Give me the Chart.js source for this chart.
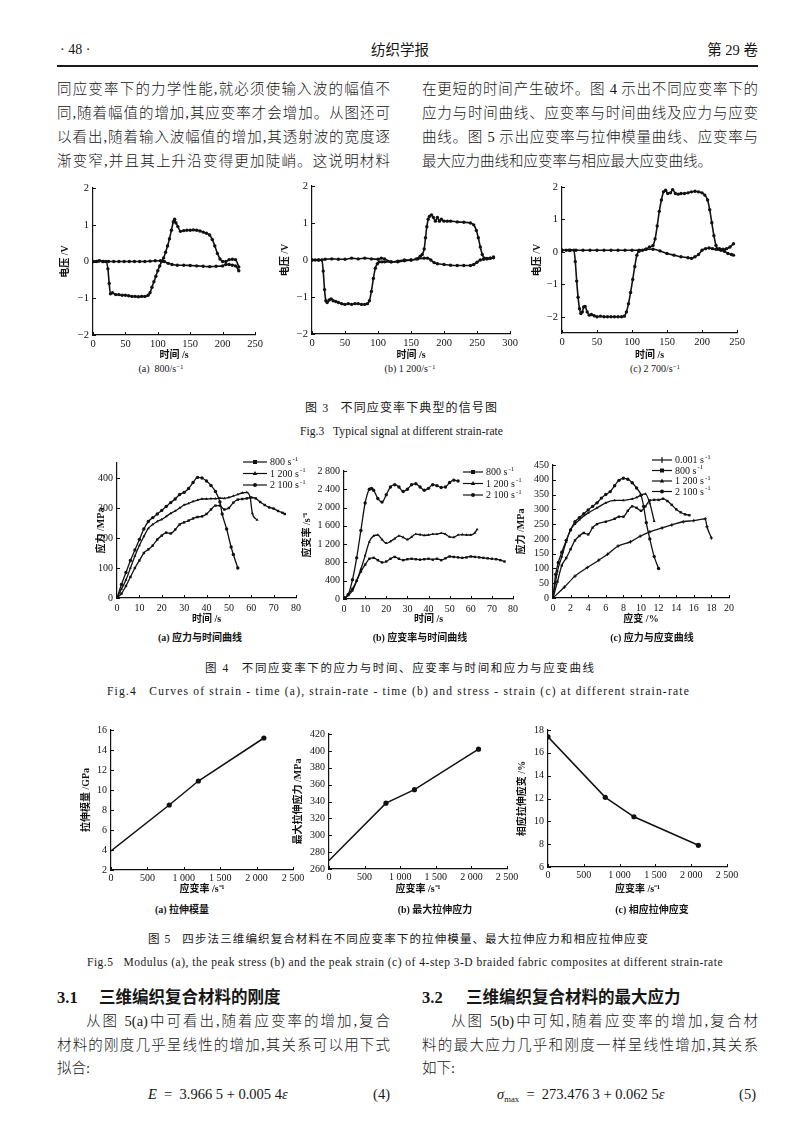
<!DOCTYPE html>
<html lang="zh-CN">
<head>
<meta charset="utf-8">
<script src="https://cdn.jsdelivr.net/npm/chart.js"></script>
<style>
  body { margin: 0; background: #fff; }
  #page { position: relative; width: 800px; height: 1123px; overflow: hidden; color: #161616;
          font-family: "Liberation Serif", "Noto Sans CJK SC", serif; }
  .t { position: absolute; white-space: nowrap; }
  .j { white-space: normal; text-align: justify; text-align-last: justify; }
  canvas { position: absolute; }
  sup { font-size: 70%; vertical-align: 0.45em; line-height: 0; }
  sub { font-size: 60%; vertical-align: -0.3em; line-height: 0; }
</style>
</head>
<body>
<div id="page"><canvas id="rule" width="701" height="2" style="left:57px;top:65px"></canvas></div>
<script>
// ===== 图3 信号 (时间 /s, 电压 /V)
const f3aT1 = [0,5,10,15,20,23,25,27,30,35,40,45,50,55,60,65,70,75,80,85,88,91,94,97,100,103,106,109,112,115,118,121,124,126,128,131,135,140,145,150,155,160,165,170,175,180,184,188,192,196,200,205,210,215,220,225];
const f3aV1 = [0,0,0.02,0,0,-0.2,-0.6,-0.88,-0.85,-0.9,-0.9,-0.92,-0.92,-0.93,-0.95,-0.95,-0.96,-0.95,-0.95,-0.92,-0.85,-0.7,-0.55,-0.4,-0.25,-0.12,0,0.1,0.25,0.42,0.62,0.85,1.08,1.15,1.05,0.95,0.82,0.84,0.85,0.85,0.86,0.85,0.83,0.8,0.77,0.72,0.6,0.42,0.22,0.07,0,0,0.05,0.06,0.05,-0.15];
const f3aT2 = [0,8,16,24,32,40,48,56,64,72,80,88,96,104,110,116,122,130,140,150,160,170,180,190,200,205,210,215,220,225];
const f3aV2 = [0,0.01,0,0,0,0,0,0,0,0,0,0.01,0.02,0.02,0,-0.05,-0.08,-0.1,-0.1,-0.11,-0.12,-0.13,-0.14,-0.13,-0.12,-0.08,-0.08,-0.1,-0.12,-0.25];

const f3bT1 = [0,5,10,15,17,19,21,23,26,29,32,36,40,45,50,55,60,65,70,75,80,84,87,90,93,96,99,102,106,110,120,130,140,150,158,164,167,170,172,174,176,178,181,184,187,190,193,196,200,205,210,220,230,240,245,249,252,255,258,261,265,270,275];
const f3bV1 = [0,0,0,0,-0.3,-0.8,-1.1,-1.15,-1.08,-1.05,-1.1,-1.12,-1.15,-1.18,-1.2,-1.18,-1.2,-1.18,-1.18,-1.2,-1.2,-1.18,-1.1,-0.85,-0.5,-0.22,-0.1,-0.05,-0.05,-0.05,-0.05,-0.03,0,0,0.03,0.1,0.15,0.3,0.6,0.9,1.1,1.18,1.22,1.15,1.05,1.15,1.05,1.1,1.05,1.05,1.05,1.03,1.02,1,0.95,0.8,0.6,0.35,0.15,0.05,0.03,0.05,0.08];
const f3bT2 = [0,10,20,30,40,50,60,70,80,90,100,105,110,120,130,140,150,160,170,175,180,185,190,200,210,220,230,240,245,250,255,260,265,270,275];
const f3bV2 = [0,0,0.02,0.03,0.02,0.02,0.05,0.03,0.05,0.03,0.02,0.05,0.03,-0.05,-0.05,-0.02,0,0.03,0.05,0.05,0,-0.07,-0.1,-0.12,-0.14,-0.15,-0.15,-0.15,-0.12,-0.06,0,0.02,0.04,0.05,0.06];

const f3cT1 = [0,6,12,17,19,21,23,25,27,29,31,33,36,39,42,46,50,55,60,65,70,75,80,85,89,92,95,98,101,104,107,110,115,120,125,130,133,136,139,142,145,148,151,155,158,162,166,170,175,180,185,190,195,200,204,208,211,214,217,220,223,227,232,237,242,245];
const f3cV1 = [0.05,0.05,0.05,0.05,-0.3,-0.9,-1.4,-1.75,-1.9,-1.85,-1.7,-1.68,-1.85,-1.95,-1.93,-1.97,-2,-1.98,-2,-2,-2,-2,-2,-2,-1.98,-1.85,-1.6,-1.25,-0.85,-0.45,-0.1,0.02,0.05,0.08,0.15,0.2,0.4,0.8,1.25,1.6,1.85,1.9,1.8,1.82,1.92,1.8,1.78,1.8,1.8,1.82,1.85,1.87,1.85,1.82,1.75,1.6,1.3,0.9,0.5,0.2,0.08,0.05,0.02,-0.05,-0.08,-0.1];
const f3cT2 = [0,10,20,30,40,50,60,70,80,90,100,110,120,130,140,150,160,170,180,185,190,195,200,205,210,215,220,225,230,235,240,245];
const f3cV2 = [0.05,0.05,0.05,0.05,0.05,0.05,0.05,0.05,0.05,0.05,0.05,0.05,0.08,0.08,0.03,-0.05,-0.1,-0.15,-0.18,-0.2,-0.15,-0.08,0.05,0.1,0.12,0.1,0.08,0.1,0.08,0.1,0.15,0.25];

// ===== 图4 (a) 应力-时间, (b) 应变率-时间, (c) 应力-应变
const rateLabels = ['800 s^-1', '1 200 s^-1', '2 100 s^-1'];
const rateLabels4c = ['0.001 s^-1', '800 s^-1', '1 200 s^-1', '2 100 s^-1'];

const f4aT800  = [0,2,4,6,8,10,12,14,16,18,20,22,24,26,28,30,32,34,36,38,40,42,44,46,48,50,52,54,56,58,60,62,64,66,68,70,72,74,75];
const f4aS800  = [0,15,40,70,100,125,150,162,175,195,208,218,215,228,245,252,258,265,270,272,280,295,308,308,295,300,318,328,330,332,335,332,320,310,302,298,290,284,280];
const f4aT1200 = [0,2,4,6,8,10,12,14,16,18,20,22,24,26,28,30,32,34,36,38,40,42,44,46,48,50,52,54,56,58,59.5,60.5,62.6];
const f4aS1200 = [0,30,60,100,140,175,205,232,245,255,262,272,282,290,300,310,315,322,326,330,330,331,331,333,332,335,340,345,350,352,335,282,260];
const f4aT2100 = [0,2,4,6,8,10,12,14,16,18,20,22,24,26,28,30,32,34,36,38,40,42,44,46,47,49,51,52,54];
const f4aS2100 = [0,45,85,125,160,195,230,255,268,280,292,305,318,330,345,352,365,385,402,400,390,375,355,320,280,230,170,145,100];

const f4bT800  = [0,2,4,6,8,10,12,14,16,18,20,22,24,26,28,30,32,34,36,38,40,42,44,46,48,50,52,54,56,58,60,62,64,66,68,70,72,74,76];
const f4bR800  = [0,100,220,400,600,750,880,900,850,800,820,880,920,880,850,870,880,870,860,870,880,860,880,850,890,930,920,910,900,910,930,920,910,900,890,880,870,850,820];
const f4bT1200 = [0,2,4,6,8,10,12,14,16,18,20,22,24,26,28,30,32,34,36,38,40,42,44,46,48,50,52,54,56,58,60,62,63];
const f4bR1200 = [0,80,180,400,650,950,1250,1380,1400,1300,1220,1260,1320,1380,1350,1300,1360,1420,1410,1390,1400,1420,1420,1440,1420,1360,1350,1400,1410,1400,1400,1450,1520];
const f4bT2100 = [0,2,4,6,8,10,12,13,14,16,18,20,22,24,26,28,30,32,34,36,38,40,42,44,46,48,50,52,54];
const f4bR2100 = [0,100,420,900,1500,2100,2400,2420,2380,2200,2120,2280,2450,2500,2450,2350,2400,2500,2520,2450,2380,2420,2500,2480,2440,2450,2550,2600,2580];

const f4cE0001 = [0,1.3,2.5,3.9,5.2,6.2,7.4,8.8,9.9,11,12.4,13.5,14.8,16,17.3,17.5,18];
const f4cS0001 = [0,37,74,103,128,148,176,190,209,224,237,247,258,262,268,241,203];
const f4cE800  = [0,0.5,1,1.5,2,2.5,3,3.5,4,4.5,5,6,7,7.5,8,8.5,9,9.5,10,10.5,11,11.5,12,12.5,13,13.5,14,14.5,15,15.5];
const f4cS800  = [0,55,110,135,165,195,210,220,215,238,250,258,268,275,275,295,310,305,295,310,330,332,332,336,328,315,300,290,283,280];
const f4cE1200 = [0,0.5,1,1.5,2,2.5,3,4,5,6,7,8,9,9.5,10,10.5,11,11.5];
const f4cS1200 = [0,90,140,190,232,250,265,288,305,322,330,330,335,340,348,352,320,260];
const f4cE2100 = [0,0.3,0.6,1,1.5,2,2.5,3,3.5,4,4.5,5,5.5,6,6.5,7,7.5,8,8.5,9,9.5,10,10.3,10.6,11,11.5,12];
const f4cS2100 = [0,80,120,155,195,230,258,272,285,298,310,322,338,350,360,380,398,405,402,390,372,348,310,255,200,140,100];

// ===== 图5 应变率 /s^-1
const strainRates = [0, 800, 1200, 2100];
const modulusGPa  = [3.9, 8.5, 10.9, 15.2];
const peakStress  = [270, 338, 354, 402];
const peakStrain  = [17.4, 12.1, 10.4, 7.9];

// ===== 刻度
const tk3aX = [0,50,100,150,200,250], tk3bX = [0,50,100,150,200,250,300], tk3Y = [-2,-1,0,1,2];
const tk4X = [0,10,20,30,40,50,60,70,80];
const tk4aY = [0,100,200,300,400];
const tk4bY = [0,400,800,1200,1600,2000,2400,2800];
const tk4cX = [0,2,4,6,8,10,12,14,16,18,20];
const tk4cY = [0,50,100,150,200,250,300,350,400,450];
const tk5X = [0,500,1000,1500,2000,2500];
const tk5aY = [2,4,6,8,10,12,14,16];
const tk5bY = [260,280,300,320,340,360,380,400,420];
const tk5cY = [6,8,10,12,14,16,18];

const page = document.getElementById('page');
const FONT = "'Liberation Serif','Noto Sans CJK SC',serif";
Chart.defaults.font.family = FONT;
Chart.defaults.font.size = 10;
Chart.defaults.color = '#111';

// filete do cabeçalho
const rc = document.getElementById('rule').getContext('2d');
rc.fillStyle = '#1a1a1a';
rc.fillRect(0, 0, 701, 2);

const fmt = v => (v < 0 ? '−' : '') + String(Math.abs(v)).replace(/\B(?=(\d{3})+(?!\d))/g, ' ');
const xy = (xs, ys) => xs.map((x, i) => ({ x, y: ys[i] }));

// ticks para dentro do gráfico
const inTicks = {
  id: 'inTicks',
  afterDraw(chart) {
    const { ctx, chartArea: a, scales: { x, y } } = chart;
    ctx.save();
    ctx.strokeStyle = '#111';
    ctx.lineWidth = 1;
    ctx.beginPath();
    x.ticks.forEach(t => { const p = Math.round(x.getPixelForValue(t.value)) + 0.5; ctx.moveTo(p, a.bottom); ctx.lineTo(p, a.bottom - 3); });
    y.ticks.forEach(t => { const p = Math.round(y.getPixelForValue(t.value)) + 0.5; ctx.moveTo(a.left, p); ctx.lineTo(a.left + 3, p); });
    ctx.stroke();
    ctx.restore();
  }
};

function mark(ctx, style, x, y, r) {
  ctx.beginPath();
  if (style === 'rect') ctx.rect(x - r, y - r, 2 * r, 2 * r);
  else if (style === 'triangle') { ctx.moveTo(x, y - r * 1.2); ctx.lineTo(x + r * 1.1, y + r * 0.8); ctx.lineTo(x - r * 1.1, y + r * 0.8); ctx.closePath(); }
  else if (style === 'cross') { ctx.moveTo(x, y - r - 1); ctx.lineTo(x, y + r + 1); ctx.stroke(); return; }
  else ctx.arc(x, y, r, 0, Math.PI * 2);
  ctx.fill();
}

// legenda dentro do gráfico
const inLegend = {
  id: 'inLegend',
  afterDraw(chart, args, o) {
    if (!o || !o.len) return;
    const ctx = chart.ctx;
    ctx.save();
    ctx.strokeStyle = ctx.fillStyle = '#111';
    ctx.lineWidth = 1.2;
    chart.data.datasets.forEach((ds, i) => {
      const y = o.y + i * o.dy;
      ctx.beginPath(); ctx.moveTo(o.x, y); ctx.lineTo(o.x + o.len, y); ctx.stroke();
      mark(ctx, ds.pointStyle, o.x + o.len / 2, y, 2);
      const [base, sup] = ds.label.split('^');
      ctx.textBaseline = 'middle';
      ctx.font = '10px ' + FONT;
      ctx.fillText(base, o.x + o.len + 3, y + 0.5);
      if (sup) {
        const w = ctx.measureText(base).width;
        ctx.font = '7px ' + FONT;
        ctx.fillText(sup, o.x + o.len + 4 + w, y - 3);
      }
    });
    ctx.restore();
  }
};

// p: área do gráfico (l,t,r,b), yt: centro do título y, xt: centro do título x
function mk(p, sets, ax, legend) {
  const cl = Math.round(p.yt - 6), ct = Math.round(p.t - 12);
  const cr = Math.round(p.r + 18), cb = Math.round(p.xt + 6);
  const cv = document.createElement('canvas');
  cv.width = cr - cl; cv.height = cb - ct;
  cv.style.left = cl + 'px'; cv.style.top = ct + 'px';
  page.appendChild(cv);

  const axis = (min, max, ticks, title, pad, fit) => ({
    type: 'linear', min, max,
    afterBuildTicks: s => { s.ticks = ticks.map(v => ({ value: v })); },
    afterFit: fit,
    grid: { display: false, drawTicks: false },
    border: { color: '#111', width: 1.2 },
    ticks: { padding: pad, autoSkip: false, maxRotation: 0, callback: fmt, font: { size: ax.fs || 10 } },
    title: { display: true, text: title, padding: 0, font: { size: 10, weight: 'bold' } }
  });

  new Chart(cv, {
    type: 'line',
    data: {
      datasets: sets.map(s => ({
        label: s.label || '',
        data: xy(s.x, s.y),
        borderColor: '#111',
        backgroundColor: '#111',
        borderWidth: s.bw || 1.3,
        pointStyle: s.style || 'circle',
        pointRadius: s.r ?? 1.7,
        pointBorderWidth: s.style === 'cross' ? 1 : 0,
        pointBackgroundColor: '#111',
        pointBorderColor: '#111',
        cubicInterpolationMode: s.smooth ? 'monotone' : 'default',
        tension: 0,
        fill: false
      }))
    },
    options: {
      responsive: false,
      animation: false,
      events: [],
      layout: { padding: { top: p.t - ct, right: cr - p.r, left: 0, bottom: 0 } },
      plugins: {
        legend: { display: false },
        tooltip: { enabled: false },
        inLegend: legend ? { x: legend.x - cl, y: legend.y - ct, dy: legend.dy, len: legend.len } : {}
      },
      scales: {
        x: axis(ax.xmin, ax.xmax, ax.xt, ax.xtitle, ax.xpad ?? 3, s => { s.height = cb - p.b; }),
        y: axis(ax.ymin, ax.ymax, ax.yt, ax.ytitle, 4, s => { s.width = p.l - cl; })
      }
    },
    plugins: [inTicks, inLegend]
  });
}

// ===== textos
function put(html, x, y, size, o = {}) {
  const d = document.createElement('div');
  d.className = 't';
  d.innerHTML = html;
  d.style.fontSize = size + 'px';
  d.style.lineHeight = size + 'px';
  d.style.top = (y - size / 2) + 'px';
  if (o.w) { d.classList.add('j'); d.style.left = x + 'px'; d.style.width = o.w + 'px'; }
  else if (o.c) { d.style.left = x + 'px'; d.style.transform = 'translateX(-50%)'; }
  else if (o.r) { d.style.right = (800 - x) + 'px'; }
  else d.style.left = x + 'px';
  if (o.b) d.style.fontWeight = 'bold';
  if (o.light) d.style.fontWeight = '300';
  page.appendChild(d);
  if (o.fit) {
    // espaça as letras até a largura do original
    const w = d.getBoundingClientRect().width;
    const n = d.textContent.length;
    d.style.letterSpacing = ((o.fit - w) / n) + 'px';
  }
}

put('· 48 ·', 60, 50, 14);
put('纺织学报', 400, 50, 14.5, { c: 1 });
put('第 29 卷', 758, 50, 14.5, { r: 1 });

const bodyY = [89, 113, 137, 161];
['同应变率下的力学性能,就必须使输入波的幅值不',
 '同,随着幅值的增加,其应变率才会增加。从图还可',
 '以看出,随着输入波幅值的增加,其透射波的宽度逐',
 '渐变窄,并且其上升沿变得更加陡峭。这说明材料'
].forEach((s, i) => put(s, 57, bodyY[i], 14.5, { w: 333, light: 1 }));
['在更短的时间产生破坏。图 4 示出不同应变率下的',
 '应力与时间曲线、应变率与时间曲线及应力与应变',
 '曲线。图 5 示出应变率与拉伸模量曲线、应变率与'
].forEach((s, i) => put(s, 422, bodyY[i], 14.5, { w: 336, light: 1 }));
put('最大应力曲线和应变率与相应最大应变曲线。', 422, bodyY[3], 14.5, { light: 1 });

// ===== 图3
mk({ l: 93, t: 188, r: 255, b: 335, yt: 65, xt: 355 },
   [{ x: f3aT1, y: f3aV1, smooth: 1, bw: 1.6 }, { x: f3aT2, y: f3aV2, smooth: 1, bw: 1.6 }],
   { xmin: 0, xmax: 250, xt: tk3aX, ymin: -2, ymax: 2, yt: tk3Y, xtitle: '时间 /s', ytitle: '电压 /V', fs: 10.5 });
mk({ l: 312, t: 186, r: 510, b: 334, yt: 285, xt: 355 },
   [{ x: f3bT1, y: f3bV1, smooth: 1, bw: 1.6 }, { x: f3bT2, y: f3bV2, smooth: 1, bw: 1.6 }],
   { xmin: 0, xmax: 300, xt: tk3bX, ymin: -2, ymax: 2, yt: tk3Y, xtitle: '时间 /s', ytitle: '电压 /V', fs: 10.5 });
mk({ l: 562, t: 187, r: 737, b: 333, yt: 537, xt: 355 },
   [{ x: f3cT1, y: f3cV1, smooth: 1, bw: 1.6 }, { x: f3cT2, y: f3cV2, smooth: 1, bw: 1.6 }],
   { xmin: 0, xmax: 250, xt: tk3aX, ymin: -2.5, ymax: 2, yt: tk3Y, xtitle: '时间 /s', ytitle: '电压 /V', fs: 10.5 });

put('(a)&nbsp; 800/s<sup>−1</sup>', 161, 369, 10, { c: 1 });
put('(b) 1 200/s<sup>−1</sup>', 410, 369, 10, { c: 1 });
put('(c) 2 700/s<sup>−1</sup>', 655, 369, 10, { c: 1 });
put('图 3&nbsp;&nbsp;&nbsp;不同应变率下典型的信号图', 305, 408, 12, { w: 192 });
put('Fig.3&nbsp;&nbsp;&nbsp;Typical signal at different strain-rate', 300, 432, 11.5, { fit: 203 });

// ===== 图4
mk({ l: 117, t: 463, r: 296, b: 598, yt: 101, xt: 619 },
   [{ x: f4aT800, y: f4aS800, style: 'rect', label: rateLabels[0], smooth: 1 },
    { x: f4aT1200, y: f4aS1200, style: 'triangle', label: rateLabels[1], smooth: 1 },
    { x: f4aT2100, y: f4aS2100, style: 'circle', label: rateLabels[2], smooth: 1 }],
   { xmin: 0, xmax: 80, xt: tk4X, ymin: 0, ymax: 450, yt: tk4aY, xtitle: '时间 /s', ytitle: '应力 /MPa', xpad: 4 },
   { x: 243, y: 462, dy: 11.5, len: 24 });
mk({ l: 344, t: 471, r: 513, b: 599, yt: 307, xt: 619 },
   [{ x: f4bT800, y: f4bR800, style: 'rect', label: rateLabels[0], smooth: 1 },
    { x: f4bT1200, y: f4bR1200, style: 'triangle', label: rateLabels[1], smooth: 1 },
    { x: f4bT2100, y: f4bR2100, style: 'circle', label: rateLabels[2], smooth: 1 }],
   { xmin: 0, xmax: 80, xt: tk4X, ymin: 0, ymax: 2800, yt: tk4bY, xtitle: '时间 /s', ytitle: '应变率 /s⁻¹', xpad: 4 },
   { x: 463, y: 472, dy: 11.5, len: 20 });
mk({ l: 553, t: 465, r: 729, b: 598, yt: 521, xt: 619 },
   [{ x: f4cE0001, y: f4cS0001, style: 'cross', label: rateLabels4c[0], smooth: 1 },
    { x: f4cE800, y: f4cS800, style: 'rect', label: rateLabels4c[1], smooth: 1 },
    { x: f4cE1200, y: f4cS1200, style: 'triangle', label: rateLabels4c[2], smooth: 1 },
    { x: f4cE2100, y: f4cS2100, style: 'circle', label: rateLabels4c[3], smooth: 1 }],
   { xmin: 0, xmax: 20, xt: tk4cX, ymin: 0, ymax: 450, yt: tk4cY, xtitle: '应变 /%', ytitle: '应力 /MPa', xpad: 4 },
   { x: 652, y: 460, dy: 10.5, len: 20 });

put('(a) 应力与时间曲线', 200, 638, 10, { c: 1, b: 1 });
put('(b) 应变率与时间曲线', 420, 638, 10, { c: 1, b: 1 });
put('(c) 应力与应变曲线', 652, 638, 10, { c: 1, b: 1 });
put('图 4&nbsp;&nbsp;&nbsp;不同应变率下的应力与时间、应变率与时间和应力与应变曲线', 205, 669, 11.5, { w: 389 });
put('Fig.4&nbsp;&nbsp;&nbsp;Curves of strain - time (a), strain-rate - time (b) and stress - strain (c) at different strain-rate', 107, 692, 11.5, { fit: 583 });

// ===== 图5
const ptR = [0, 2.6, 2.6, 2.6];
mk({ l: 111, t: 730, r: 293, b: 870, yt: 86, xt: 889 },
   [{ x: strainRates, y: modulusGPa, r: ptR, bw: 1.5 }],
   { xmin: 0, xmax: 2500, xt: tk5X, ymin: 2, ymax: 16, yt: tk5aY, xtitle: '应变率 /s⁻¹', ytitle: '拉伸模量 /GPa', xpad: 2 });
mk({ l: 329, t: 734, r: 507, b: 869, yt: 298, xt: 889 },
   [{ x: strainRates, y: peakStress, r: ptR, bw: 1.5 }],
   { xmin: 0, xmax: 2500, xt: tk5X, ymin: 260, ymax: 420, yt: tk5bY, xtitle: '应变率 /s⁻¹', ytitle: '最大拉伸应力 /MPa', xpad: 2 });
mk({ l: 548, t: 730, r: 727, b: 867, yt: 522, xt: 889 },
   [{ x: strainRates, y: peakStrain, r: 2.6, bw: 1.5 }],
   { xmin: 0, xmax: 2500, xt: tk5X, ymin: 6, ymax: 18, yt: tk5cY, xtitle: '应变率 /s⁻¹', ytitle: '相应拉伸应变 /%', xpad: 2 });

put('(a) 拉伸模量', 182, 910, 10, { c: 1, b: 1 });
put('(b) 最大拉伸应力', 435, 910, 10, { c: 1, b: 1 });
put('(c) 相应拉伸应变', 652, 910, 10, { c: 1, b: 1 });
put('图 5&nbsp;&nbsp;&nbsp;四步法三维编织复合材料在不同应变率下的拉伸模量、最大拉伸应力和相应拉伸应变', 148, 940, 11.5, { w: 500 });
put('Fig.5&nbsp;&nbsp;&nbsp;Modulus (a), the peak stress (b) and the peak strain (c) of 4-step 3-D braided fabric composites at different strain-rate', 87, 963, 11.5, { fit: 636 });

// ===== 3.1 / 3.2
put('3.1', 57, 998, 16.5, { b: 1 });
put('三维编织复合材料的刚度', 99, 998, 16.5, { b: 1 });
put('3.2', 422, 998, 16.5, { b: 1 });
put('三维编织复合材料的最大应力', 466, 998, 16.5, { b: 1 });

put('从图 5(a)中可看出,随着应变率的增加,复合', 86, 1021, 14.5, { w: 304, light: 1 });
put('材料的刚度几乎呈线性的增加,其关系可以用下式', 57, 1045, 14.5, { w: 333, light: 1 });
put('拟合:', 57, 1068, 14.5, { light: 1 });
put('<i>E</i>&nbsp; = &nbsp;3.966 5 + 0.005 4<i>ε</i>', 148, 1094, 14.5);
put('(4)', 390, 1094, 14.5, { r: 1 });

put('从图 5(b)中可知,随着应变率的增加,复合材', 451, 1021, 14.5, { w: 307, light: 1 });
put('料的最大应力几乎和刚度一样呈线性增加,其关系', 422, 1045, 14.5, { w: 336, light: 1 });
put('如下:', 422, 1068, 14.5, { light: 1 });
put('<i>σ</i><sub>max</sub>&nbsp; = &nbsp;273.476 3 + 0.062 5<i>ε</i>', 497, 1094, 14.5);
put('(5)', 756, 1094, 14.5, { r: 1 });
</script>
</body>
</html>
